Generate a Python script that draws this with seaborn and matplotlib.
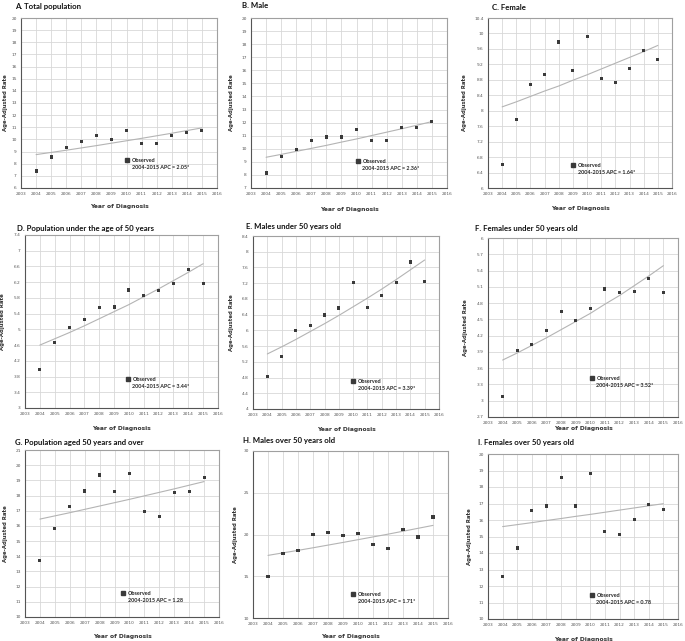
import matplotlib
matplotlib.use("Agg")
import matplotlib.pyplot as plt
import seaborn as sns
import pandas as pd
import numpy as np
from matplotlib.lines import Line2D

years = [2004, 2005, 2006, 2007, 2008, 2009, 2010, 2011, 2012, 2013, 2014, 2015]

titles = ["A. Total population", "B. Male", "C. Female",
          "D. Population under the age of 50 years", "E. Males under 50 years old",
          "F. Females under 50 years old", "G. Population aged 50 years and over",
          "H. Males over 50 years old", "I. Females over 50 years old"]

apc_labels = ["2004-2015 APC = 2.05*", "2004-2015 APC = 2.36*", "2004-2015 APC = 1.64*",
              "2004-2015 APC = 3.44*", "2004-2015 APC = 3.39*", "2004-2015 APC = 3.52*",
              "2004-2015 APC = 1.28", "2004-2015 APC = 1.71*", "2004-2015 APC = 0.78"]

obs_A = [7.4, 8.55, 9.3, 9.8, 10.35, 10.0, 10.7, 9.7, 9.65, 10.35, 10.6, 10.7]
obs_B = [8.15, 9.4, 9.95, 10.65, 10.9, 10.9, 11.45, 10.6, 10.65, 11.6, 11.65, 12.1]
obs_C = [6.6, 7.77, 8.67, 8.93, 9.78, 9.05, 9.92, 8.83, 8.72, 9.1, 9.57, 9.32]
obs_D = [3.98, 4.66, 5.05, 5.24, 5.55, 5.57, 6.0, 5.86, 5.98, 6.16, 6.53, 6.16]
obs_E = [4.83, 5.33, 6.0, 6.12, 6.39, 6.57, 7.22, 6.58, 6.88, 7.22, 7.74, 7.25]
obs_F = [3.08, 3.93, 4.03, 4.3, 4.64, 4.48, 4.7, 5.06, 5.0, 5.02, 5.25, 5.0]
obs_G = [13.7, 15.85, 17.3, 18.3, 19.35, 18.28, 19.45, 16.93, 16.6, 18.2, 18.25, 19.2]
obs_H = [15.0, 17.75, 18.05, 20.0, 20.25, 19.9, 20.15, 18.8, 18.3, 20.6, 19.7, 22.1]
obs_I = [12.6, 14.3, 16.6, 16.85, 18.55, 16.85, 18.8, 15.3, 15.1, 16.05, 16.95, 16.65]

fit_A = [8.75, 8.93, 9.11, 9.30, 9.49, 9.69, 9.89, 10.09, 10.30, 10.51, 10.73, 10.95]
fit_B = [9.35, 9.57, 9.80, 10.03, 10.26, 10.51, 10.75, 11.01, 11.27, 11.53, 11.80, 12.08]
fit_C = [8.10, 8.23, 8.37, 8.51, 8.64, 8.79, 8.93, 9.08, 9.23, 9.38, 9.53, 9.69]
fit_D = [4.60, 4.76, 4.92, 5.09, 5.27, 5.45, 5.63, 5.83, 6.03, 6.24, 6.45, 6.67]
fit_E = [5.40, 5.58, 5.77, 5.97, 6.17, 6.38, 6.60, 6.82, 7.05, 7.29, 7.54, 7.79]
fit_F = [3.75, 3.88, 4.02, 4.16, 4.31, 4.46, 4.61, 4.78, 4.94, 5.12, 5.30, 5.49]
fit_G = [16.45, 16.66, 16.87, 17.09, 17.31, 17.53, 17.75, 17.98, 18.21, 18.44, 18.68, 18.92]
fit_H = [17.50, 17.80, 18.10, 18.41, 18.73, 19.05, 19.38, 19.71, 20.04, 20.39, 20.74, 21.09]
fit_I = [15.60, 15.72, 15.84, 15.97, 16.09, 16.22, 16.34, 16.47, 16.60, 16.73, 16.86, 16.99]

observed = [obs_A, obs_B, obs_C, obs_D, obs_E, obs_F, obs_G, obs_H, obs_I]
fitted = [fit_A, fit_B, fit_C, fit_D, fit_E, fit_F, fit_G, fit_H, fit_I]

# y axis (min, max, step)
y_ranges = [(6, 20, 1), (7, 20, 1), (6, 10.4, 0.4), (3, 7.4, 0.4), (4, 8.4, 0.4),
            (2.7, 6, 0.3), (10, 21, 1), (10, 30, 5), (10, 20, 1)]

x_ticks = list(range(2003, 2017))

# ---- layout (pixels) ----
W, H = 685, 641
axes_px = [(21, 18, 217, 188), (251, 18, 447, 188), (488, 18, 672, 188),
           (25, 235, 218, 408), (253, 236, 439, 409), (488, 238, 678, 417),
           (25, 450, 219, 617), (253, 451, 448, 618), (488, 454, 678, 619)]
title_px = [(15, 6), (242, 6), (492, 8), (17, 228), (246, 227), (475, 228),
            (15, 442), (243, 440), (478, 442)]
xlabel_y = [204, 207, 206, 426, 427, 426, 634, 634, 637]
ylabel_x = [8, 234, 467, 5, 234, 468, 8, 238, 472]
legend_px = [(127, 162), (358, 163), (573, 167), (128, 381), (353, 383), (592, 380),
             (123, 595), (353, 596), (592, 597)]

sns.set_theme(style="white")
plt.rcParams['font.family'] = ['DejaVu Sans']

fig = plt.figure(figsize=(W / 100, H / 100), dpi=100)

for i in range(9):
    l, t, r, b = axes_px[i]
    ax = fig.add_axes([l / W, 1 - b / H, (r - l) / W, (b - t) / H])
    df = pd.DataFrame({"Year": years, "Observed": observed[i], "Fitted": fitted[i]})
    sns.lineplot(data=df, x="Year", y="Fitted", ax=ax, color="#b4b4b4", linewidth=0.8, zorder=2)
    sns.scatterplot(data=df, x="Year", y="Observed", ax=ax, marker="s", s=5,
                    color="#3a3a3a", edgecolor="none", linewidth=0, zorder=3)
    lo, hi, st = y_ranges[i]
    yt = np.round(np.arange(lo, hi + st / 2, st), 2)
    ax.set_ylim(lo, hi)
    ax.set_yticks(yt)
    ax.set_yticklabels([("%g" % v) for v in yt])
    ax.set_xlim(2003, 2016)
    ax.set_xticks(x_ticks)
    ax.set_xticklabels([str(x) for x in x_ticks])
    ax.grid(True, color="#d8d8d8", linewidth=0.6)
    ax.set_axisbelow(True)
    for name, sp in ax.spines.items():
        sp.set_color("#555555" if name in ("left", "bottom") else "#a0a0a0")
        sp.set_linewidth(0.8)
    ax.tick_params(axis="both", labelsize=3.1, colors="#555555", length=1.5, width=0.4, pad=1.5)
    ax.set_xlabel("Year of Diagnosis", fontsize=4.3, fontweight="bold", color="#333333")
    ax.set_ylabel("Age-Adjusted Rate", fontsize=3.9, fontweight="bold", color="#333333")
    ax.xaxis.set_label_coords(0.5, (b - xlabel_y[i]) / (b - t))
    ax.yaxis.set_label_coords((ylabel_x[i] - l) / (r - l), 0.5)
    # legend
    lx, ly = legend_px[i]
    handles = [Line2D([], [], marker="s", linestyle="none", color="#3a3a3a", markersize=2.2),
               Line2D([], [], linestyle="none")]
    leg = ax.legend(handles, ["Observed", apc_labels[i]], loc="upper left",
                    bbox_to_anchor=((lx - 2 - l) / (r - l), (b - ly + 4) / (b - t)),
                    frameon=False, borderpad=0, borderaxespad=0, handlelength=0.8,
                    handletextpad=0.4, labelspacing=0.35,
                    prop={"size": 3.9, "weight": "bold", "family": "Lato"})
    # title
    tx, ty = title_px[i]
    fig.text(tx / W, 1 - ty / H, titles[i], fontsize=5.6, fontweight="bold",
             family="Lato", va="center", ha="left", color="#111111")

fig.savefig("out.png", dpi=100, facecolor="white")
